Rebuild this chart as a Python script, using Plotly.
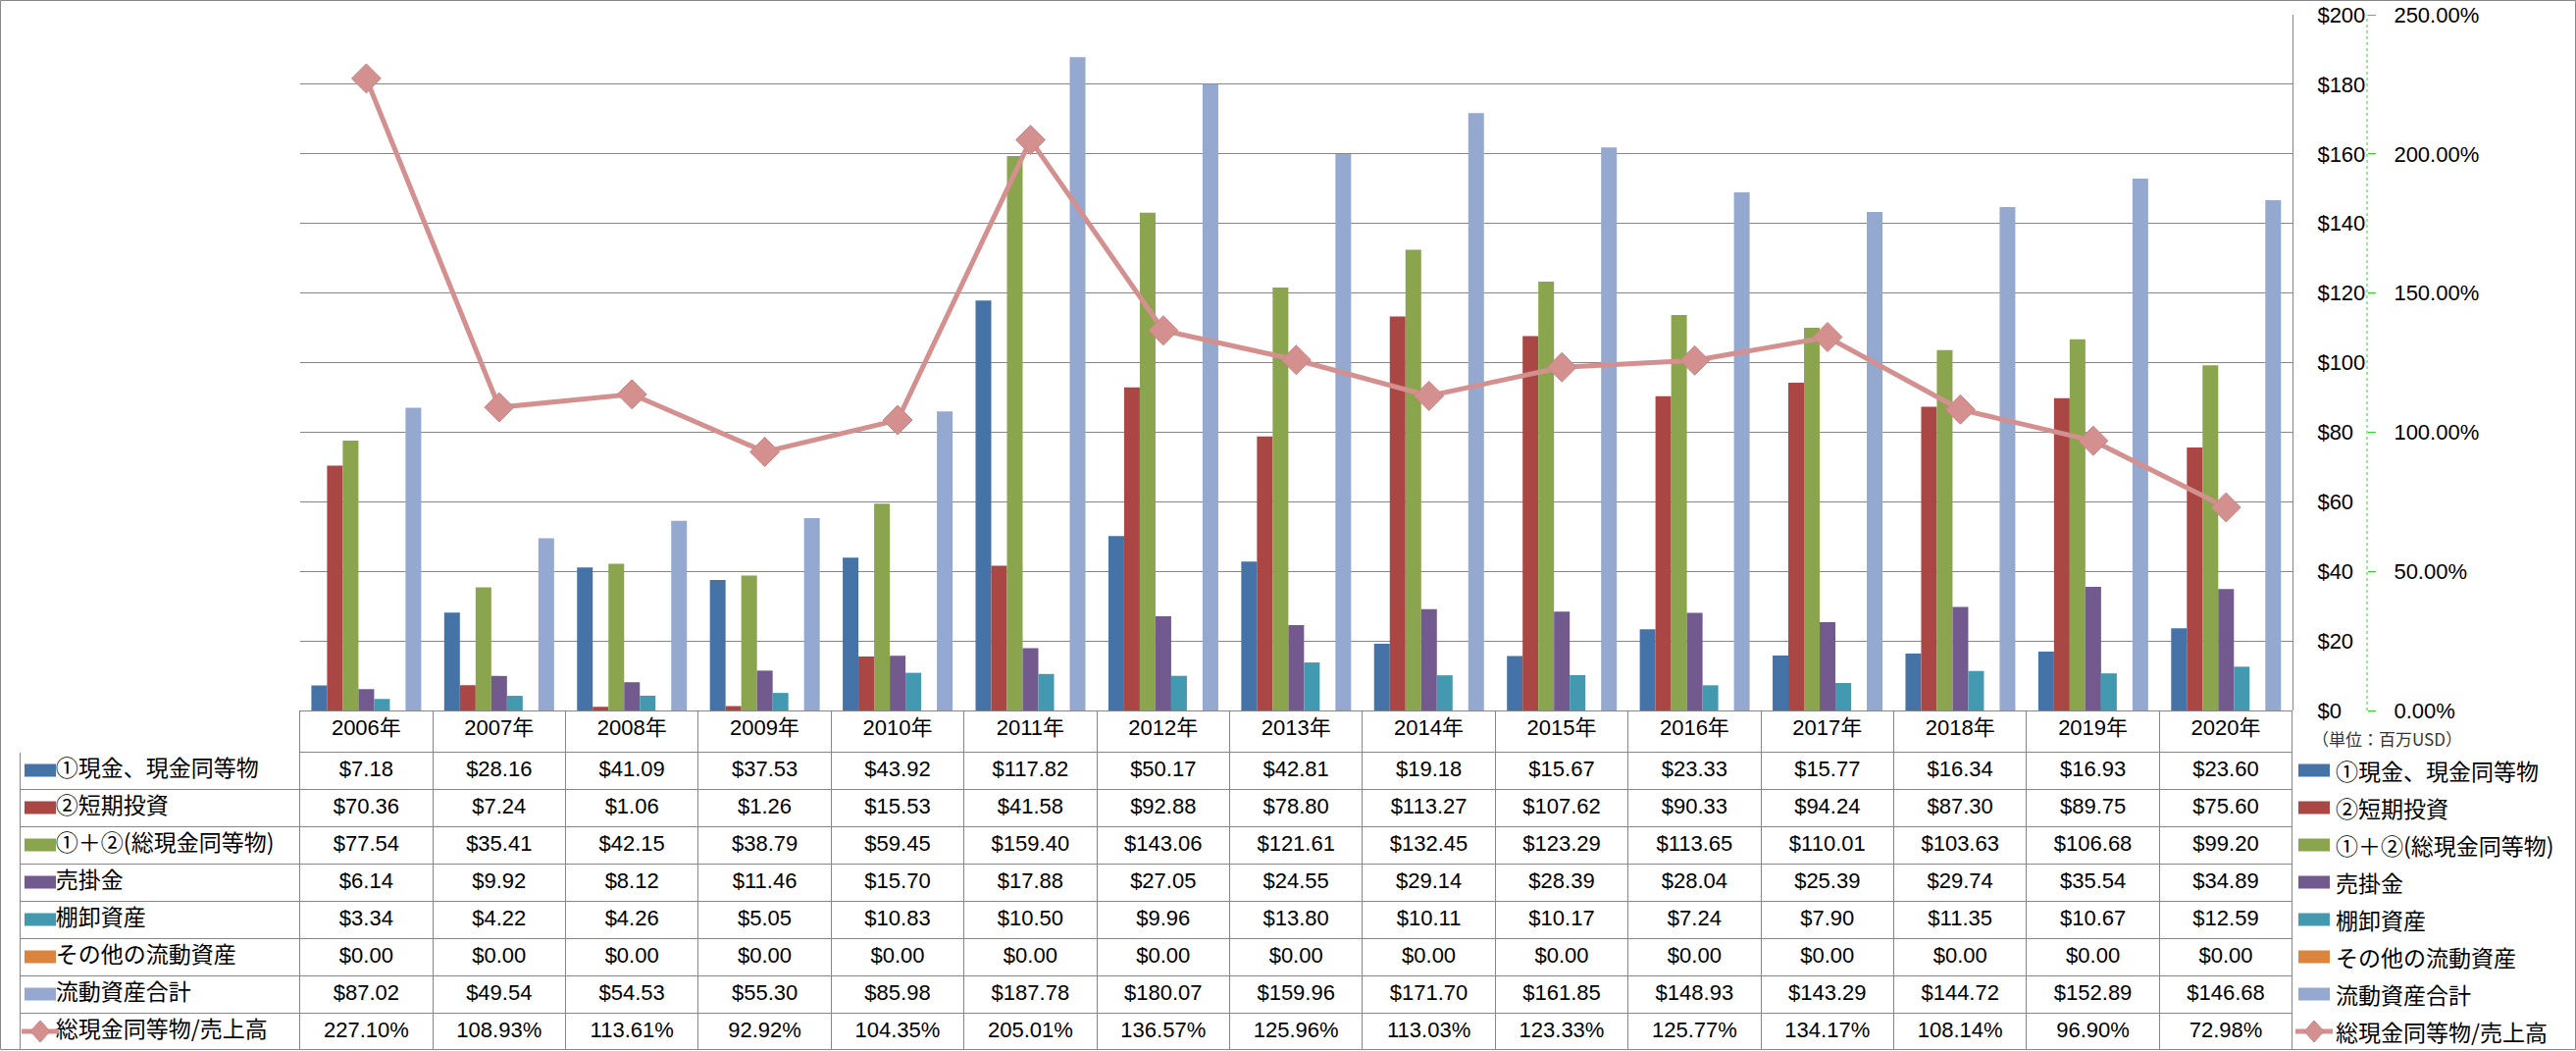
import plotly.graph_objects as go

# ---------------- data ----------------
years = ["2006年", "2007年", "2008年", "2009年", "2010年", "2011年", "2012年", "2013年",
         "2014年", "2015年", "2016年", "2017年", "2018年", "2019年", "2020年"]
cash = [7.18, 28.16, 41.09, 37.53, 43.92, 117.82, 50.17, 42.81, 19.18, 15.67, 23.33, 15.77, 16.34, 16.93, 23.60]
short_inv = [70.36, 7.24, 1.06, 1.26, 15.53, 41.58, 92.88, 78.80, 113.27, 107.62, 90.33, 94.24, 87.30, 89.75, 75.60]
total_cash = [77.54, 35.41, 42.15, 38.79, 59.45, 159.40, 143.06, 121.61, 132.45, 123.29, 113.65, 110.01, 103.63, 106.68, 99.20]
receivables = [6.14, 9.92, 8.12, 11.46, 15.70, 17.88, 27.05, 24.55, 29.14, 28.39, 28.04, 25.39, 29.74, 35.54, 34.89]
inventory = [3.34, 4.22, 4.26, 5.05, 10.83, 10.50, 9.96, 13.80, 10.11, 10.17, 7.24, 7.90, 11.35, 10.67, 12.59]
other_ca = [0.00, 0.00, 0.00, 0.00, 0.00, 0.00, 0.00, 0.00, 0.00, 0.00, 0.00, 0.00, 0.00, 0.00, 0.00]
total_ca = [87.02, 49.54, 54.53, 55.30, 85.98, 187.78, 180.07, 159.96, 171.70, 161.85, 148.93, 143.29, 144.72, 152.89, 146.68]
ratio_pct = [227.10, 108.93, 113.61, 92.92, 104.35, 205.01, 136.57, 125.96, 113.03, 123.33, 125.77, 134.17, 108.14, 96.90, 72.98]

names = ["①現金、現金同等物", "②短期投資", "①＋②(総現金同等物)", "売掛金", "棚卸資産",
         "その他の流動資産", "流動資産合計", "総現金同等物/売上高"]
unit_label = "（単位：百万USD）"

# ---------------- style ----------------
W, H = 2626, 1071
colors = ["#4673A7", "#AA4643", "#8AA54E", "#72598E", "#4299B0", "#DB843D", "#95A9D0"]
line_color = "#D4908F"
grid_color = "#868686"
num_font = "Liberation Sans, Arial, Noto Sans CJK JP"
cjk_font = "Noto Sans CJK JP, Liberation Sans"


def fx(p):
    return p / W


def fy(p):
    return 1 - p / H


# geometry (pixels)
PLOT_L, PLOT_R, PLOT_T, PLOT_B = 305.7, 2337, 15, 724
TAB_L = 20.7
HDR_H, ROW_H = 42, 38

fig = go.Figure()

bar_series = [cash, short_inv, total_cash, receivables, inventory, other_ca, total_ca]
for name, vals, col in zip(names[:7], bar_series, colors):
    fig.add_trace(go.Bar(x=years, y=vals, name=name, marker=dict(color=col, line=dict(width=0)),
                         xaxis="x", yaxis="y", showlegend=False))

fig.add_trace(go.Scatter(x=years, y=[v / 100 for v in ratio_pct], name=names[7], mode="lines+markers",
                         line=dict(color=line_color, width=5),
                         marker=dict(symbol="diamond", size=23, color=line_color,
                                     line=dict(color="#C98584", width=1)),
                         xaxis="x", yaxis="y2", showlegend=False))

# ---------------- data table ----------------
def money(v):
    return f"${v:.2f}"


rows = [cash, short_inv, total_cash, receivables, inventory, other_ca, total_ca]
col_values = [["\u3000\u00a0" + n for n in names]]
for j in range(len(years)):
    col = [money(r[j]) for r in rows] + [f"{ratio_pct[j]:.2f}%"]
    col_values.append(col)

n_cols = len(years) + 1
col_w = (PLOT_R - PLOT_L) / len(years)
fig.add_trace(go.Table(
    domain=dict(x=[fx(TAB_L), fx(PLOT_R)], y=[0, fy(PLOT_B)]),
    columnwidth=[PLOT_L - TAB_L] + [col_w] * len(years),
    header=dict(values=[""] + years, height=HDR_H,
                fill=dict(color="white"),
                line=dict(color=["white"] + [grid_color] * len(years), width=1),
                font=dict(family=num_font, size=22, color="black"),
                align="center"),
    cells=dict(values=col_values, height=ROW_H,
               fill=dict(color="white"),
               line=dict(color=grid_color, width=1),
               font=dict(family=[cjk_font] + [num_font] * len(years),
                         size=[23] + [22] * len(years), color="black"),
               align=["left"] + ["center"] * len(years)),
))

shapes = []
annotations = []

# legend keys (left table column and right legend)
for i in range(8):
    cy = PLOT_B + HDR_H + ROW_H * i + ROW_H / 2
    for (x0, x1, cx) in [(25, 57, 41), (2343, 2375, 2359)]:
        if i < 7:
            shapes.append(dict(type="rect", xref="paper", yref="paper",
                               x0=fx(x0), x1=fx(x1), y0=fy(cy + 6.5), y1=fy(cy - 6.5),
                               fillcolor=colors[i], line=dict(width=0)))
        else:
            shapes.append(dict(type="line", xref="paper", yref="paper",
                               x0=fx(x0 - 3), x1=fx(x1 + 3), y0=fy(cy), y1=fy(cy),
                               line=dict(color=line_color, width=5)))
            path = (f"M {fx(cx - 10)} {fy(cy)} L {fx(cx)} {fy(cy - 11)} "
                    f"L {fx(cx + 10)} {fy(cy)} L {fx(cx)} {fy(cy + 11)} Z")
            shapes.append(dict(type="path", xref="paper", yref="paper", path=path,
                               fillcolor=line_color, line=dict(color="#C98584", width=1)))
    annotations.append(dict(text=names[i], xref="paper", yref="paper", x=fx(2379), y=fy(cy),
                            xanchor="left", yanchor="middle", showarrow=False,
                            font=dict(family=cjk_font, size=23, color="black")))

annotations.append(dict(text=unit_label, xref="paper", yref="paper", x=fx(2355), y=fy(752),
                        xanchor="left", yanchor="middle", showarrow=False,
                        font=dict(family=cjk_font, size=17, color="#333333")))

# dashed green % axis line
shapes.append(dict(type="line", xref="paper", yref="paper", x0=fx(2413), x1=fx(2413),
                   y0=fy(PLOT_B), y1=fy(PLOT_T), line=dict(color="#22DD22", width=1, dash="3px,3px")))
# outer frame
shapes.append(dict(type="rect", xref="paper", yref="paper", x0=fx(0.5), x1=fx(W - 0.5),
                   y0=fy(H - 1.5), y1=fy(0.5), line=dict(color=grid_color, width=1),
                   fillcolor="rgba(0,0,0,0)"))

fig.update_layout(
    template="none",
    width=W, height=H, autosize=False,
    margin=dict(l=0, r=0, t=0, b=0),
    paper_bgcolor="white", plot_bgcolor="white",
    barmode="group", bargap=0.173, bargroupgap=0,
    showlegend=False,
    xaxis=dict(domain=[fx(PLOT_L), fx(PLOT_R)], type="category", range=[-0.5, 14.5],
               showticklabels=False, showgrid=False, showline=False, zeroline=False, ticks=""),
    yaxis=dict(domain=[fy(PLOT_B), fy(PLOT_T)], range=[0, 200], dtick=20, tickprefix="$",
               side="right", showgrid=True, gridcolor=grid_color, gridwidth=1,
               showline=True, linecolor=grid_color, linewidth=1, zeroline=False, ticks="",
               ticklabelstandoff=20,
               tickfont=dict(family=num_font, size=22, color="black")),
    yaxis2=dict(overlaying="y", side="right", anchor="free", position=fx(2413),
                range=[0, 2.5], dtick=0.5, tickformat=".2%", showgrid=False, zeroline=False,
                showline=False, ticks="outside", ticklen=8, tickcolor="#22DD22", tickwidth=1,
                ticklabelstandoff=14,
                tickfont=dict(family=num_font, size=22, color="black")),
    shapes=shapes,
    annotations=annotations,
    font=dict(family=num_font, color="black"),
)

fig.write_html("out.html", config={"displayModeBar": False},
               post_script="document.body.style.margin='0';document.body.style.overflow='hidden';")
